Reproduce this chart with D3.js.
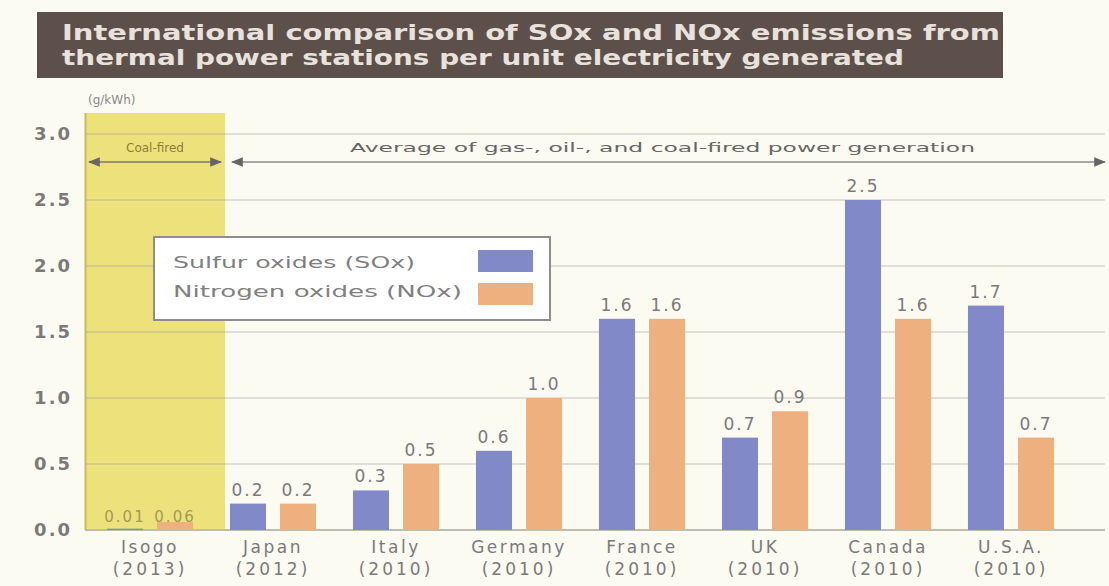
<!DOCTYPE html>
<html>
<head>
<meta charset="utf-8">
<script src="https://cdn.jsdelivr.net/npm/d3@7/dist/d3.min.js"></script>
<style>
html,body{margin:0;padding:0;background:#fcfbf2;}
svg{display:block;}
text{font-family:"DejaVu Sans",sans-serif;}
</style>
</head>
<body>
<svg id="chart" width="1109" height="586"></svg>
<script>
const categories = ["Isogo", "Japan", "Italy", "Germany", "France", "UK", "Canada", "U.S.A."];
const years = ["(2013)", "(2012)", "(2010)", "(2010)", "(2010)", "(2010)", "(2010)", "(2010)"];
const seriesNames = ["Sulfur oxides (SOx)", "Nitrogen oxides (NOx)"];
const soxValues = [0.01, 0.2, 0.3, 0.6, 1.6, 0.7, 2.5, 1.7];
const noxValues = [0.06, 0.2, 0.5, 1.0, 1.6, 0.9, 1.6, 0.7];
const soxLabels = ["0.01", "0.2", "0.3", "0.6", "1.6", "0.7", "2.5", "1.7"];
const noxLabels = ["0.06", "0.2", "0.5", "1.0", "1.6", "0.9", "1.6", "0.7"];
const yTicks = [0, 0.5, 1.0, 1.5, 2.0, 2.5, 3.0];
const titleLines = ["International comparison of SOx and NOx emissions from", "thermal power stations per unit electricity generated"];
const unitLabel = "(g/kWh)";
const coalNote = "Coal-fired";
const avgNote = "Average of gas-, oil-, and coal-fired power generation";

const colors = {SOx: "#8189c8", NOx: "#efb07f"};
const svg = d3.select("#chart");

// title box
svg.append("rect").attr("x", 37).attr("y", 12).attr("width", 966).attr("height", 66).attr("fill", "#5d504a");
titleLines.forEach((t, i) => {
  svg.append("text").attr("x", 62).attr("y", 40 + i * 25).attr("fill", "#e8e2dc")
    .attr("font-size", 22).attr("font-weight", "bold")
    .attr("textLength", i === 0 ? 938 : 842).attr("lengthAdjust", "spacingAndGlyphs")
    .text(t);
});

const y = d3.scaleLinear().domain([0, 3]).range([530, 134]);
const x = d3.scaleBand().domain(categories).range([88.5, 1072.5]).paddingInner(0.3).paddingOuter(0.15);
const xs = d3.scaleBand().domain(["SOx", "NOx"]).range([0, x.bandwidth()]).paddingInner(0.28);

// yellow coal band
svg.append("rect").attr("x", 85).attr("y", 113).attr("width", 140).attr("height", y(0) - 113).attr("fill", "#ede17c");
svg.append("line").attr("x1", 85.5).attr("x2", 85.5).attr("y1", 113).attr("y2", y(0)).attr("stroke", "#c9bb5a").attr("stroke-width", 2);

// grid
const grid = svg.append("g");
grid.selectAll("line").data(yTicks.filter(d => d > 0)).join("line")
  .attr("x1", 86).attr("x2", 1105)
  .attr("y1", d => y(d)).attr("y2", d => y(d))
  .attr("stroke", "#9a9a9a").attr("stroke-opacity", 0.3).attr("stroke-width", 2);
svg.append("line").attr("x1", 85).attr("x2", 1105).attr("y1", y(0)).attr("y2", y(0))
  .attr("stroke", "#bdbdb0").attr("stroke-width", 2);

// y axis
const yAxis = d3.axisLeft(y).tickValues(yTicks).tickFormat(d3.format(".1f")).tickSize(0).tickPadding(6);
const ya = svg.append("g").attr("transform", "translate(78,0)").call(yAxis);
ya.select(".domain").remove();
ya.selectAll("text").attr("font-size", 18).attr("fill", "#7a7a7a").attr("font-family", "DejaVu Sans")
  .attr("font-weight", "bold").attr("letter-spacing", 2);
svg.append("text").attr("x", 88).attr("y", 104).attr("font-size", 12).attr("fill", "#888").text(unitLabel);

// annotations
const defs = svg.append("defs");
defs.append("marker").attr("id", "ah").attr("viewBox", "0 0 10 10").attr("refX", 9).attr("refY", 5)
  .attr("markerWidth", 8).attr("markerHeight", 8).attr("orient", "auto-start-reverse")
  .append("path").attr("d", "M0,1L10,5L0,9Z").attr("fill", "#666");
svg.append("line").attr("x1", 89).attr("x2", 221).attr("y1", 162).attr("y2", 162)
  .attr("stroke", "#777").attr("stroke-width", 1.5)
  .attr("marker-start", "url(#ah)").attr("marker-end", "url(#ah)");
svg.append("line").attr("x1", 232).attr("x2", 1105).attr("y1", 162).attr("y2", 162)
  .attr("stroke", "#8a8a8a").attr("stroke-width", 1.5)
  .attr("marker-start", "url(#ah)").attr("marker-end", "url(#ah)");
svg.append("text").attr("x", 155).attr("y", 152).attr("text-anchor", "middle").attr("font-size", 12)
  .attr("fill", "#8a7f3a").text(coalNote);
svg.append("text").attr("x", 350).attr("y", 152).attr("font-size", 13).attr("fill", "#666")
  .attr("textLength", 625).attr("lengthAdjust", "spacingAndGlyphs").text(avgNote);

// bars
const rows = categories.map((c, i) => ({cat: c, vals: [
  {key: "SOx", v: soxValues[i], lab: soxLabels[i]},
  {key: "NOx", v: noxValues[i], lab: noxLabels[i]}]}));
const groups = svg.append("g").selectAll("g").data(rows).join("g")
  .attr("transform", d => `translate(${x(d.cat)},0)`);
groups.selectAll("rect").data(d => d.vals).join("rect")
  .attr("x", d => xs(d.key)).attr("width", xs.bandwidth())
  .attr("y", d => y(d.v)).attr("height", d => y(0) - y(d.v))
  .attr("fill", d => colors[d.key]);
groups.each(function(g, gi) {
  d3.select(this).selectAll("text.val").data(g.vals).join("text").attr("class", "val")
    .attr("x", d => xs(d.key) + xs.bandwidth() / 2)
    .attr("y", d => gi === 0 ? y(0) - 8 : y(d.v) - 8)
    .attr("text-anchor", "middle").attr("font-size", gi === 0 ? 15 : 17)
    .attr("fill", gi === 0 ? "#a39a55" : "#7a7a7a").attr("letter-spacing", 2)
    .text(d => d.lab);
});

// x labels
const xl = svg.append("g").selectAll("g").data(categories).join("g")
  .attr("transform", d => `translate(${x(d) + x.bandwidth() / 2},0)`);
xl.append("text").attr("y", 553).attr("text-anchor", "middle").attr("font-size", 17).attr("fill", "#7a7a7a")
  .attr("letter-spacing", 2.5).text(d => d);
xl.append("text").attr("y", 575).attr("text-anchor", "middle").attr("font-size", 17).attr("fill", "#7a7a7a")
  .attr("letter-spacing", 3).text((d, i) => years[i]);

// legend
const lg = svg.append("g");
lg.append("rect").attr("x", 154).attr("y", 237).attr("width", 396).attr("height", 83)
  .attr("fill", "#ffffff").attr("stroke", "#8d8d8d").attr("stroke-width", 2);
["SOx", "NOx"].forEach((k, i) => {
  lg.append("text").attr("x", 173).attr("y", 268 + i * 29).attr("font-size", 16).attr("fill", "#808080")
    .attr("textLength", i === 0 ? 242 : 289).attr("lengthAdjust", "spacingAndGlyphs")
    .text(seriesNames[i]);
  lg.append("rect").attr("x", 478).attr("y", 250 + i * 33).attr("width", 55).attr("height", 22)
    .attr("fill", colors[k]);
});
</script>
</body>
</html>
